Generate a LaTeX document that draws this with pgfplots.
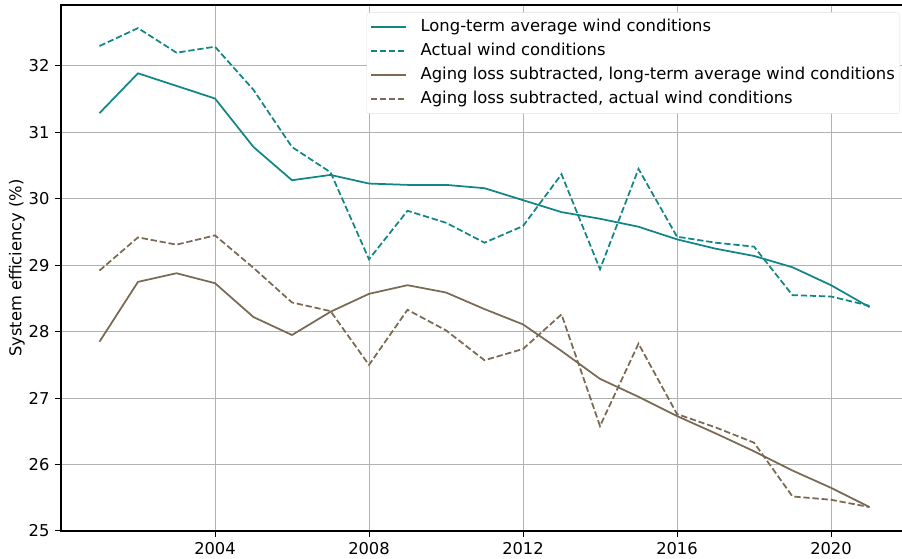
\documentclass[border=0pt]{standalone}
\usepackage{fontspec}
\setmainfont{DejaVu Sans}
\usepackage{pgfplots}
\pgfplotsset{compat=1.18}
\definecolor{tealc}{RGB}{18,134,134}
\definecolor{brownc}{RGB}{122,106,84}
\definecolor{gridc}{RGB}{178,178,178}
\begin{document}
\fontsize{16}{19}\selectfont
\begin{tikzpicture}
\useasboundingbox (-61pt,-28pt) rectangle (841pt,531pt);
\begin{axis}[
  scale only axis,
  width=847pt, height=526pt,
  xmin=2000, xmax=2022,
  ymin=25, ymax=32.918,
  xtick={2004,2008,2012,2016,2020},
  ytick={25,26,27,28,29,30,31,32},
  xticklabel style={/pgf/number format/1000 sep={}},
  /pgf/number format/assume math mode=true,
  tick label style={font=\fontsize{16.3}{19}\selectfont},
  label style={font=\fontsize{16.3}{19}\selectfont},
  ylabel={System efficiency (\%)},
  ylabel style={yshift=-7pt},
  tick align=outside,
  xtick pos=bottom, ytick pos=left,
  major tick length=6pt,
  every tick/.style={black, line width=1pt},
  grid=major,
  major grid style={gridc, line width=1pt},
  axis line style={black, line width=1.1pt},
  legend cell align=left,
  legend image code/.code={\draw[#1, line width=1.8pt, draw opacity=1] (0pt,0.5pt) -- (35pt,0.5pt);},
  legend style={at={(1,1)}, anchor=north east, xshift=-8pt, yshift=-7.5pt,
    draw=gray!25, rounded corners=3pt, fill=white,
    font=\fontsize{16.4}{19}\selectfont, row sep=8pt, inner xsep=3pt, inner ysep=6.5pt,
    nodes={inner ysep=0pt, text height=12pt, text depth=4pt},
    /tikz/every odd column/.append style={column sep=12pt}},
]
\addplot[tealc, line width=1.75pt] coordinates {
(2001,31.29)(2002,31.89)(2003,31.70)(2004,31.51)(2005,30.78)(2006,30.28)(2007,30.36)
(2008,30.23)(2009,30.21)(2010,30.21)(2011,30.16)(2012,29.98)(2013,29.80)(2014,29.70)
(2015,29.58)(2016,29.39)(2017,29.25)(2018,29.14)(2019,28.97)(2020,28.70)(2021,28.37)};
\addlegendentry{Long-term average wind conditions}
\addplot[tealc, line width=1.75pt, dash pattern=on 6.3pt off 2.8pt] coordinates {
(2001,32.30)(2002,32.57)(2003,32.20)(2004,32.29)(2005,31.64)(2006,30.78)(2007,30.40)
(2008,29.09)(2009,29.82)(2010,29.64)(2011,29.34)(2012,29.59)(2013,30.37)(2014,28.94)
(2015,30.45)(2016,29.43)(2017,29.34)(2018,29.28)(2019,28.55)(2020,28.53)(2021,28.39)};
\addlegendentry{Actual wind conditions}
\addplot[brownc, line width=1.75pt] coordinates {
(2001,27.85)(2002,28.75)(2003,28.88)(2004,28.73)(2005,28.22)(2006,27.95)(2007,28.30)
(2008,28.57)(2009,28.70)(2010,28.59)(2011,28.34)(2012,28.11)(2013,27.71)(2014,27.29)
(2015,27.02)(2016,26.73)(2017,26.47)(2018,26.20)(2019,25.91)(2020,25.65)(2021,25.36)};
\addlegendentry{Aging loss subtracted, long-term average wind conditions}
\addplot[brownc, line width=1.75pt, dash pattern=on 6.3pt off 2.8pt] coordinates {
(2001,28.92)(2002,29.42)(2003,29.31)(2004,29.45)(2005,28.96)(2006,28.44)(2007,28.31)
(2008,27.50)(2009,28.33)(2010,28.02)(2011,27.57)(2012,27.74)(2013,28.26)(2014,26.58)
(2015,27.82)(2016,26.76)(2017,26.56)(2018,26.33)(2019,25.52)(2020,25.47)(2021,25.36)};
\addlegendentry{Aging loss subtracted, actual wind conditions}
\end{axis}
\end{tikzpicture}
\end{document}
